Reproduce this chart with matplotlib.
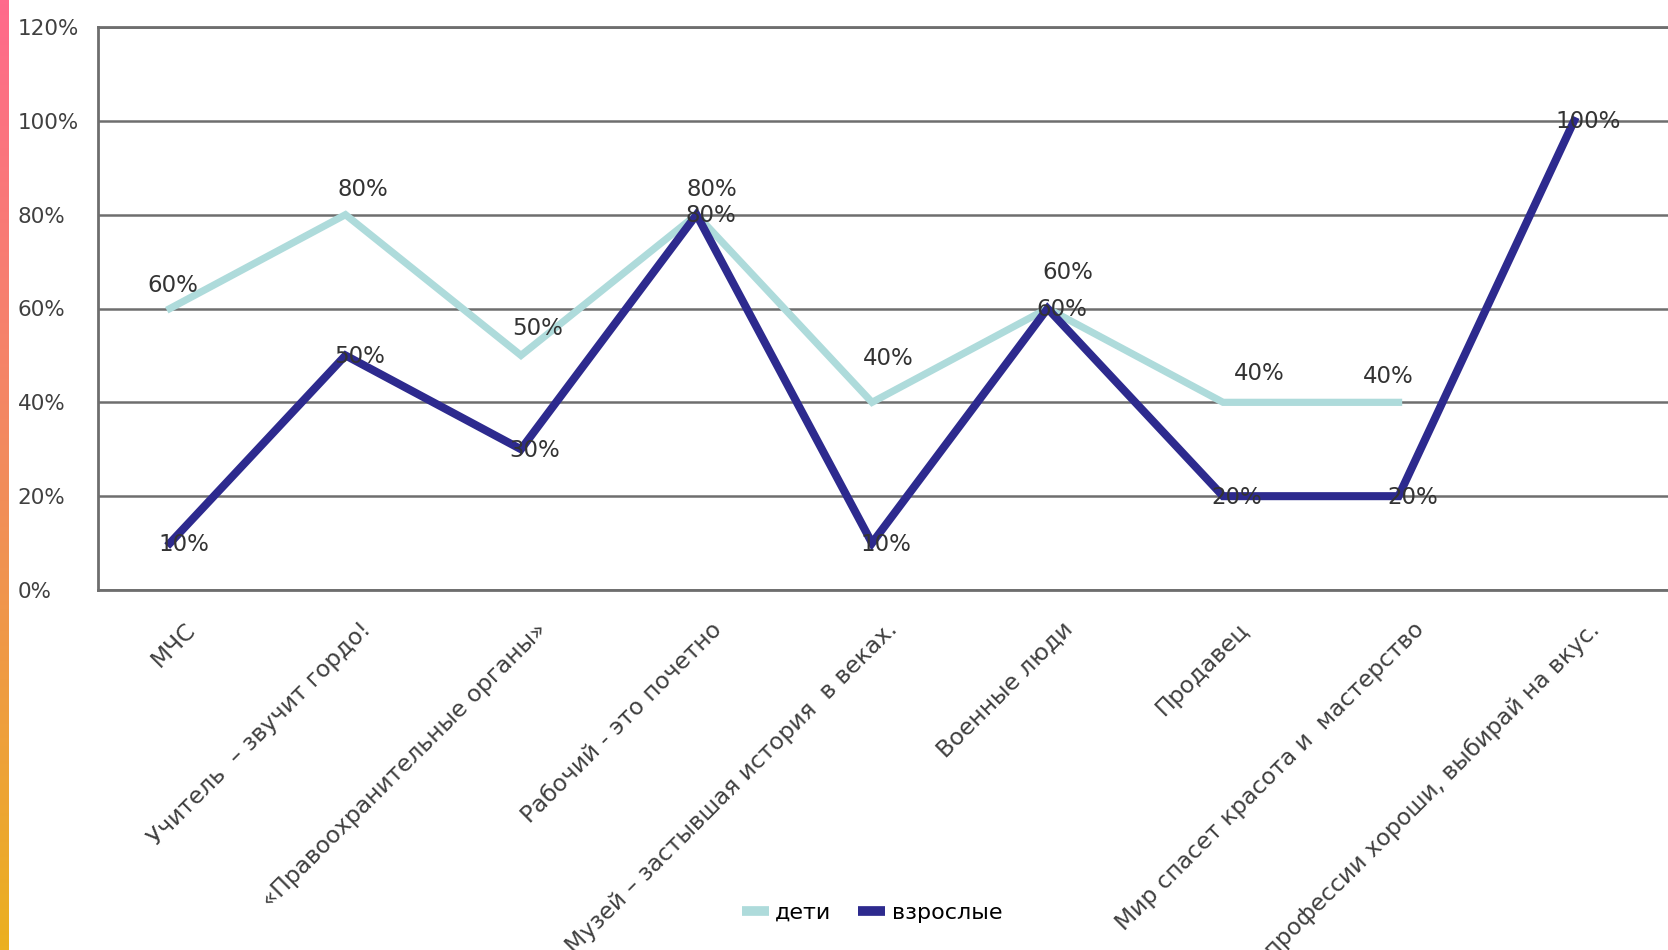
import numpy as np
import matplotlib
matplotlib.use('Agg')
import matplotlib.pyplot as plt
from matplotlib.lines import Line2D
from matplotlib.colors import LinearSegmentedColormap
import matplotlib.transforms as mtransforms

categories = ['МЧС',
'Учитель  – звучит гордо!',
'«Правоохранительные органы»',
'Рабочий - это почетно',
'Музей – застывшая история  в веках.',
'Военные люди',
'Продавец',
'Мир спасет красота и  мастерство',
'Все профессии хороши, выбирай на вкус.']

deti = [60, 80, 50, 80, 40, 60, 40, 40, np.nan]
vzroslye = [10, 50, 30, 80, 10, 60, 20, 20, 100]

yticks = [0, 20, 40, 60, 80, 100, 120]

# label offsets in pixels (dx, dy)
deti_off = [(3, 23), (17, 25), (17, 27), (15, 25), (16, 44), (20, 36), (36, 29), (-10, 26)]
vzr_off = (14, -1)

c_light = '#AEDBDB'
c_dark = '#2D2A8E'
c_grid = '#6E6E6E'

W, H = 1668, 950
fig = plt.figure(figsize=(W / 100, H / 100), dpi=100)

# pink-orange strip on the left edge
strip = fig.add_axes([0, 0, 9 / W, 1])
cmap = LinearSegmentedColormap.from_list('strip', ['#FF6A8C', '#F28C5C', '#EBB020'])
strip.imshow(np.linspace(0, 1, 256).reshape(-1, 1), aspect='auto', cmap=cmap)
strip.axis('off')

left = 98 / W
bottom = (H - 590) / H
top = (H - 27) / H
ax = fig.add_axes([left, bottom, 1 - left, top - bottom])

x = np.arange(len(categories))
ax.plot(x, deti, color=c_light, lw=5.2, solid_joinstyle='miter', zorder=3)
ax.plot(x, vzroslye, color=c_dark, lw=5.8, solid_joinstyle='miter', zorder=4)

for i, v in enumerate(deti):
    if np.isnan(v):
        continue
    dx, dy = deti_off[i]
    ax.annotate('%d%%' % v, (x[i], v), xytext=(dx, dy), textcoords='offset pixels',
                ha='center', va='center', fontsize=16.5, color='#333333', zorder=6)
for i, v in enumerate(vzroslye):
    ax.annotate('%d%%' % v, (x[i], v), xytext=vzr_off, textcoords='offset pixels',
                ha='center', va='center', fontsize=16.5, color='#333333', zorder=6)

ax.set_xlim(-0.41, 8.535)
ax.set_ylim(0, 120)
ax.set_yticks(yticks)
ax.set_yticklabels(['%d%%' % t for t in yticks])
ax.yaxis.grid(True, color=c_grid, lw=1.8)
ax.set_axisbelow(True)
ax.tick_params(axis='y', length=0, pad=58, labelsize=15.5, labelcolor='#404040')
for lab in ax.get_yticklabels():
    lab.set_ha('left')

ax.set_xticks(x)
ax.set_xticklabels(categories, rotation=45, ha='right', rotation_mode='anchor',
                   fontsize=16.8, color='#404040')
ax.tick_params(axis='x', length=0, pad=20)
shift = mtransforms.ScaledTranslation(14 / 100, 0, fig.dpi_scale_trans)
for lab in ax.get_xticklabels():
    lab.set_transform(lab.get_transform() + shift)

for s in ['left', 'top', 'bottom']:
    ax.spines[s].set_color(c_grid)
    ax.spines[s].set_linewidth(2)
ax.spines['right'].set_visible(False)

handles = [Line2D([], [], color=c_light, lw=7, solid_capstyle='butt'),
           Line2D([], [], color=c_dark, lw=7, solid_capstyle='butt')]
fig.legend(handles, ['дети', 'взрослые'], loc='center', bbox_to_anchor=(872 / W, 1 - 913 / H),
           ncol=2, frameon=False, fontsize=16, handlelength=1.2, handletextpad=0.3,
           columnspacing=1.2)

fig.savefig('out.png', dpi=100)
